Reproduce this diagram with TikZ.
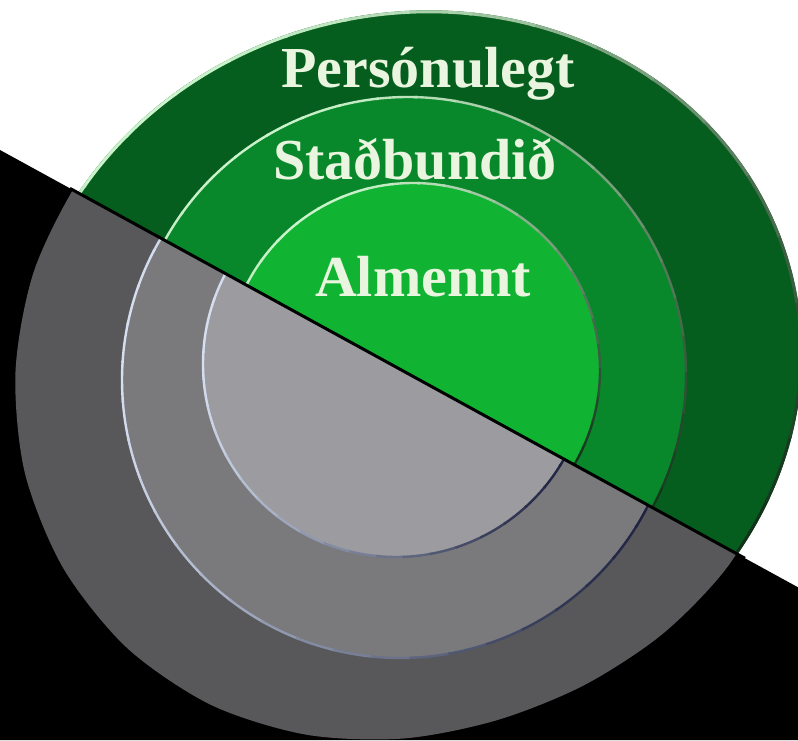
\documentclass[tikz,border=0pt]{standalone}
\usepackage{fontspec}
\setmainfont{Liberation Serif}
\definecolor{gOut}{RGB}{6,94,30}
\definecolor{gMid}{RGB}{8,136,42}
\definecolor{gIn}{RGB}{16,180,50}
\definecolor{kOut}{RGB}{88,88,90}
\definecolor{kMid}{RGB}{122,122,125}
\definecolor{kIn}{RGB}{156,156,160}
\definecolor{gLight}{RGB}{205,245,205}
\definecolor{gDark}{RGB}{12,45,20}
\definecolor{kLight}{RGB}{215,225,242}
\definecolor{kDark}{RGB}{25,30,60}
\definecolor{txt}{RGB}{234,245,224}
\tikzset{lbl/.style={text=txt, font=\bfseries\fontsize{58}{60}\selectfont, anchor=base, inner sep=0pt}}
\newcommand\ringedge[6]{%
  \foreach \a in {0,8,...,352}{%
    \pgfmathtruncatemacro\t{50*(1+cos(\a+4-#4))}%
    \draw[line width=2.4pt,color=#5!\t!#6] (#1,#2) ++(\a:#3) arc[start angle=\a,end angle=\a+8.6,radius=#3];
  }}
\begin{document}
\begin{tikzpicture}[x=1pt,y=1pt]
\useasboundingbox (0,0) rectangle (798,740);
\fill[white] (0,0) rectangle (798,740);
\coordinate (LA) at (0,590);
\coordinate (LB) at (798,152.7);
\coordinate (GC) at (403.5,368.5);
\coordinate (EC) at (409.5,369);
\fill[black] (LA) -- (LB) -- (798,0) -- (0,0) -- cycle;
% gray half
\begin{scope}
  \clip (LA) -- (LB) -- (798,0) -- (0,0) -- cycle;
  \fill[kOut,shift={(GC)}] plot[smooth cycle] coordinates {(0:385pt) (15:383pt) (30:380pt) (45:380pt) (60:380pt) (75:380pt) (90:380pt) (105:380pt) (120:380pt) (135:378pt) (150:377pt) (165:383pt) (180:388pt) (195:392pt) (210:393pt) (225:391pt) (240:385pt) (255:376pt) (270:367pt) (285:361pt) (300:362pt) (315:369pt) (330:379pt) (345:385pt)};
  \fill[kMid] (400,360) circle[radius=278pt];
  \ringedge{400}{360}{278pt}{170}{kLight}{kDark}
  \fill[kIn] (396,376) circle[radius=193pt];
  \ringedge{396}{376}{193pt}{170}{kLight}{kDark}
\end{scope}
% green half
\begin{scope}
  \clip (LA) -- (LB) -- (798,740) -- (0,740) -- cycle;
  \fill[gOut,rotate around={15:(EC)}] (EC) ellipse[x radius=395pt,y radius=358pt];
  \foreach \a in {0,10,...,350}{%
    \pgfmathtruncatemacro\t{50*(1+cos(\a+5-135))}%
    \pgfmathsetmacro\b{\a+10.5}%
    \begin{scope}
      \clip (EC) -- +(\a:1500pt) -- +(\b:1500pt) -- cycle;
      \draw[line width=3pt,color=gLight!\t!gDark,rotate around={15:(EC)}] (EC) ellipse[x radius=393.5pt,y radius=356.5pt];
    \end{scope}
  }
  \fill[gMid] (408,365) circle[radius=278pt];
  \ringedge{408}{365}{278pt}{125}{gLight}{gDark}
  \fill[gIn] (413,370) circle[radius=187pt];
  \ringedge{413}{370}{187pt}{125}{gLight}{gDark}
\end{scope}
\coordinate (D1) at (70,551.6);
\coordinate (D2) at (745,181.7);
\draw[line width=3pt,black] (D1) -- (D2);
\node[lbl] (t1) at (428,652) {Persónulegt};
\node[lbl] (t2) at (415,560) {Staðbundið};
\node[lbl] (t3) at (423,443) {Almennt};
\end{tikzpicture}
\end{document}
